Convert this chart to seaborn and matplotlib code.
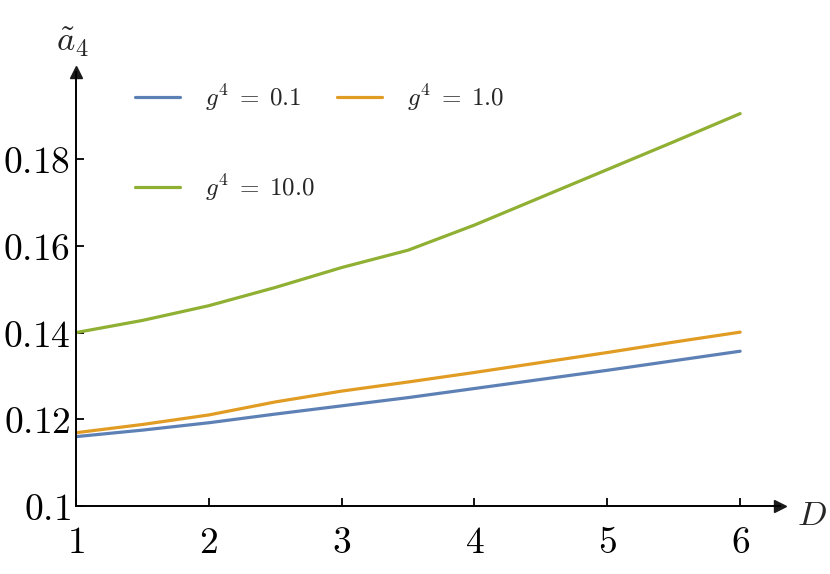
import numpy as np
import pandas as pd
import matplotlib
matplotlib.use('Agg')
import matplotlib.pyplot as plt
import seaborn as sns

# valores
D = [1.0, 1.5, 2.0, 2.5, 3.0, 3.5, 4.0, 4.5, 5.0, 5.5, 6.0]
a4_g01 = [0.1160, 0.1175, 0.1192, 0.1212, 0.1231, 0.1250, 0.1271, 0.1292, 0.1313, 0.1335, 0.1357]
a4_g1 = [0.1169, 0.1188, 0.1210, 0.1240, 0.1265, 0.1286, 0.1308, 0.1331, 0.1354, 0.1378, 0.1401]
a4_g10 = [0.1400, 0.1428, 0.1462, 0.1504, 0.1550, 0.1590, 0.1648, 0.1712, 0.1776, 0.1840, 0.1905]
series_labels = [r'$g^4\;=\;0.1$', r'$g^4\;=\;1.0$', r'$g^4\;=\;10.0$']
colores = ['#5E81B5', '#E19C24', '#8FB032']
xticks = [1, 2, 3, 4, 5, 6]
yticks = [0.1, 0.12, 0.14, 0.16, 0.18]
ytick_labels = ['0.1', '0.12', '0.14', '0.16', '0.18']

sns.set_theme(style='white')
plt.rcParams['mathtext.fontset'] = 'cm'
plt.rcParams['font.family'] = ['DejaVu Serif']

fig = plt.figure(figsize=(8.3, 5.74), dpi=100)
ax = fig.add_axes([76 / 830, 68 / 574, 704 / 830, 434 / 574])

df = pd.DataFrame({'D': D * 3,
                   'a4': a4_g01 + a4_g1 + a4_g10,
                   'g': sum([[l] * len(D) for l in series_labels], [])})

for lab, col in zip(series_labels, colores):
    sns.lineplot(data=df[df['g'] == lab], x='D', y='a4', color=col,
                 linewidth=2.3, label=lab, legend=False, ax=ax)

ax.set_xlim(1, 6.30)
ax.set_ylim(0.1, 0.2001)
ax.set_xlabel('')
ax.set_ylabel('')

ax.set_xticks(xticks)
ax.set_xticklabels(['$%d$' % t for t in xticks])
ax.set_yticks(yticks)
ax.set_yticklabels(['$%s$' % t for t in ytick_labels])
ax.tick_params(direction='in', length=6, width=1.3, labelsize=27, color='black',
               labelcolor='black')
ax.tick_params(axis='x', pad=14, bottom=True)
ax.tick_params(axis='y', pad=4, left=True)

for s in ['top', 'right']:
    ax.spines[s].set_visible(False)
for s in ['left', 'bottom']:
    ax.spines[s].set_linewidth(1.4)
    ax.spines[s].set_color('black')

# flechas de los ejes
ax.plot(1, 0, '>k', markersize=8, transform=ax.transAxes, clip_on=False)
ax.plot(0, 1, '^k', markersize=8, transform=ax.transAxes, clip_on=False)

fig.text(73 / 830, 1 - 42 / 574, r'$\tilde{a}_4$', fontsize=25, ha='center', va='center')
fig.text(812 / 830, 1 - 515 / 574, r'$D$', fontsize=25, ha='center', va='center')

h = ax.get_lines()[:3]
ax.legend([h[0], h[2], h[1]], [series_labels[0], series_labels[2], series_labels[1]],
          ncol=2, frameon=False, loc='upper left',
          bbox_to_anchor=(135 / 830, 1 - 82 / 574), bbox_transform=fig.transFigure,
          fontsize=18, handlelength=1.8, handletextpad=1.0, columnspacing=0.9,
          labelspacing=2.4, borderpad=0, borderaxespad=0)

plt.savefig('out.png', dpi=100)
